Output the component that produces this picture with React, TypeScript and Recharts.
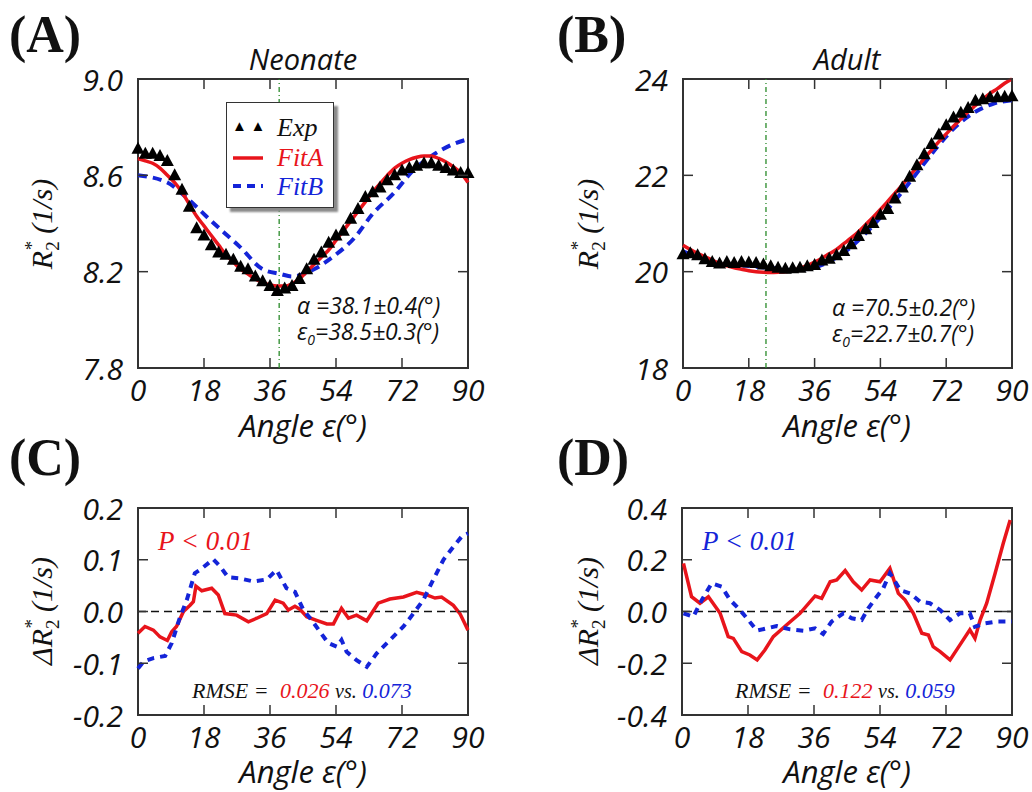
import React from 'react';
import { ComposedChart, Line, XAxis, YAxis, ReferenceLine, ReferenceArea } from 'recharts';

// ---- data ----
const angleTicks = [0, 18, 36, 54, 72, 90];

const expAngles = [0, 2, 4, 6, 8, 10, 12, 14, 16, 18, 20, 22, 24, 26, 28, 30, 32, 34, 36, 38, 40, 42, 44,
  46, 48, 50, 52, 54, 56, 58, 60, 62, 64, 66, 68, 70, 72, 74, 76, 78, 80, 82, 84, 86, 88, 90];

// Neonate (A)
const neoTicks = [7.8, 8.2, 8.6, 9.0];
const neoExp = [8.71, 8.69, 8.69, 8.68, 8.66, 8.60, 8.54, 8.47, 8.38, 8.35, 8.31, 8.28, 8.27, 8.25, 8.22, 8.21,
  8.18, 8.16, 8.14, 8.12, 8.13, 8.14, 8.17, 8.21, 8.25, 8.28, 8.32, 8.35, 8.37, 8.42, 8.46, 8.51, 8.53, 8.55,
  8.58, 8.60, 8.62, 8.63, 8.64, 8.65, 8.65, 8.64, 8.63, 8.62, 8.61, 8.61];
const neoFitA = [8.67, 8.66, 8.65, 8.63, 8.60, 8.57, 8.53, 8.48, 8.43, 8.39, 8.35, 8.31, 8.27, 8.24, 8.21, 8.19,
  8.17, 8.155, 8.145, 8.14, 8.14, 8.15, 8.17, 8.20, 8.23, 8.26, 8.29, 8.33, 8.37, 8.41, 8.45, 8.49, 8.53, 8.565,
  8.60, 8.63, 8.65, 8.665, 8.675, 8.68, 8.68, 8.67, 8.655, 8.635, 8.61, 8.57];
const neoFitBAngles = [0, 8, 13, 20, 28, 34, 39, 42, 48, 53, 59, 64, 70, 75, 80, 86, 90];
const neoFitB = [8.60, 8.57, 8.51, 8.41, 8.30, 8.21, 8.19, 8.18, 8.21, 8.26, 8.34, 8.44, 8.53, 8.62, 8.68, 8.73, 8.75];

// Adult (B)
const adultTicks = [18, 20, 22, 24];
const adultExp = [20.36, 20.38, 20.34, 20.26, 20.20, 20.17, 20.20, 20.18, 20.20, 20.19, 20.18, 20.15, 20.11,
  20.08, 20.06, 20.07, 20.08, 20.11, 20.14, 20.23, 20.27, 20.34, 20.43, 20.57, 20.74, 20.88, 21.01, 21.18, 21.30,
  21.52, 21.75, 21.97, 22.21, 22.44, 22.65, 22.85, 23.04, 23.20, 23.30, 23.40, 23.55, 23.58, 23.62, 23.62, 23.63, 23.64];
const adultFitA = [20.55, 20.46, 20.38, 20.31, 20.24, 20.17, 20.12, 20.08, 20.05, 20.02, 20.00, 19.99, 19.985,
  19.99, 20.00, 20.03, 20.07, 20.13, 20.20, 20.28, 20.37, 20.46, 20.58, 20.70, 20.83, 20.98, 21.13, 21.29, 21.46,
  21.63, 21.80, 21.99, 22.17, 22.35, 22.53, 22.70, 22.86, 23.02, 23.17, 23.32, 23.45, 23.58, 23.70, 23.80, 23.91, 24.00];
const adultFitBAngles = [0, 5, 10, 15, 20, 25, 30, 35, 40, 45, 50, 55, 60, 65, 70, 75, 80, 85, 90];
const adultFitB = [20.42, 20.28, 20.17, 20.14, 20.10, 20.07, 20.03, 20.07, 20.21, 20.45, 20.80, 21.21, 21.66,
  22.15, 22.63, 23.04, 23.32, 23.49, 23.56];

// Residuals neonate (C)
const resNeoTicks = [-0.2, -0.1, 0.0, 0.1, 0.2];
const resNeoAAngles = [0, 1.9, 4.2, 6, 8, 9.2, 10.5, 12.4, 14.2, 15.1, 15.8, 17.4, 20.1, 21.9, 23.7, 26.9, 30.1,
  32.4, 35.1, 37.4, 39.6, 41, 42.8, 44.2, 46, 48.7, 51.5, 53.3, 55.5, 57.4, 59.6, 62.4, 65.5, 68.7, 72.4, 76,
  78.7, 81, 82.8, 86, 87.8, 90];
const resNeoA = [-0.042, -0.029, -0.036, -0.049, -0.056, -0.039, -0.029, 0.0, 0.012, 0.019, 0.049, 0.040, 0.045,
  0.032, -0.004, -0.007, -0.020, -0.013, -0.004, 0.022, 0.016, 0.003, 0.010, 0.004, -0.010, -0.017, -0.024,
  -0.024, 0.006, -0.013, -0.007, -0.018, 0.016, 0.024, 0.028, 0.037, 0.032, 0.026, 0.028, 0.012, -0.004, -0.036];
const resNeoBAngles = [0, 1.5, 4.2, 7.4, 9.2, 11.5, 13.3, 15.5, 17.4, 20.5, 22.4, 24.6, 27.8, 31.5, 35.1, 37.8,
  40.5, 42.8, 45.1, 47.4, 49.6, 51.9, 54.2, 55.5, 56.9, 59.6, 62.4, 65.1, 68.7, 72.4, 75.1, 77.8, 80.5, 83.3,
  86, 88.3, 90];
const resNeoB = [-0.110, -0.097, -0.090, -0.086, -0.061, -0.010, 0.022, 0.074, 0.083, 0.101, 0.087, 0.066, 0.064,
  0.058, 0.062, 0.080, 0.045, 0.038, 0.003, -0.017, -0.039, -0.061, -0.068, -0.055, -0.078, -0.094, -0.107,
  -0.081, -0.055, -0.029, -0.004, 0.022, 0.061, 0.100, 0.125, 0.145, 0.151];

// Residuals adult (D)
const resAdultTicks = [-0.4, -0.2, 0.0, 0.2, 0.4];
const resAdultAAngles = [0.4, 2.6, 4.9, 7.2, 10.4, 12.6, 14, 16.3, 18.5, 20.5, 22.6, 24.9, 28.5, 32.2, 36.3,
  38.1, 40.4, 42.2, 44.5, 46.7, 49, 51.3, 54, 56.7, 59, 60.8, 63.1, 65.4, 67.2, 68.5, 70.4, 73.1, 75.8, 78.5,
  79.9, 81.3, 83.1, 85.4, 87.6, 89.5];
const resAdultA = [0.186, 0.057, 0.032, 0.057, -0.007, -0.097, -0.104, -0.155, -0.168, -0.187, -0.149, -0.097,
  -0.052, -0.007, 0.060, 0.051, 0.115, 0.122, 0.158, 0.115, 0.083, 0.122, 0.115, 0.167, 0.070, 0.045, -0.007,
  -0.084, -0.091, -0.136, -0.155, -0.187, -0.129, -0.071, -0.104, -0.033, 0.032, 0.148, 0.263, 0.354];
const resAdultBAngles = [0.4, 3.1, 5.4, 8.1, 10.8, 13.1, 15.8, 18.1, 20.4, 23.1, 25.8, 29.5, 33.1, 36.3, 38.5,
  40.8, 44, 46.3, 49, 50.8, 53.1, 54.9, 56.7, 59.5, 62.2, 64.9, 67.6, 70.4, 73.1, 75.8, 78.5, 79.9, 82.6, 85.8, 90];
const resAdultB = [-0.007, -0.020, 0.045, 0.109, 0.096, 0.045, 0.006, -0.033, -0.074, -0.065, -0.056, -0.069,
  -0.074, -0.065, -0.087, -0.039, -0.007, -0.026, -0.033, 0.012, 0.057, 0.090, 0.148, 0.083, 0.070, 0.038,
  0.032, 0.006, -0.033, -0.007, -0.007, -0.059, -0.046, -0.039, -0.039];

const zip = (xs: number[], ys: number[]) => xs.map((x, i) => ({ x, y: ys[i] }));

const FRAME = '#333';
const RED = '#e8141b';
const BLUE = '#1424d8';
const SANS = '"Open Sans", "Noto Sans", sans-serif';
const SERIF = '"Liberation Serif", "DejaVu Serif", serif';

const makeXTick = (plotH: number) => (p: any) => {
  const { x, y, payload, index } = p;
  return (
    <g key={`xt-${index}`}>
      <line x1={x} y1={y} x2={x} y2={y - 10} stroke={FRAME} strokeWidth={1.5} />
      <line x1={x} y1={y - plotH} x2={x} y2={y - plotH + 10} stroke={FRAME} strokeWidth={1.5} />
      <text x={x} y={y + 21} textAnchor="middle" dominantBaseline="central" fontFamily={SANS}
        fontStyle="italic" fontSize={30} fill="#111">{payload.value}</text>
    </g>
  );
};

const makeYTick = (plotW: number, digits: number) => (p: any) => {
  const { x, y, payload, index } = p;
  return (
    <g key={`yt-${index}`}>
      <line x1={x} y1={y} x2={x + 10} y2={y} stroke={FRAME} strokeWidth={1.5} />
      <line x1={x + plotW} y1={y} x2={x + plotW - 10} y2={y} stroke={FRAME} strokeWidth={1.5} />
      <text x={x - 15} y={y} textAnchor="end" dominantBaseline="central" fontFamily={SANS}
        fontStyle="italic" fontSize={30} fill="#111">{Number(payload.value).toFixed(digits)}</text>
    </g>
  );
};

const Tri = (p: any) => {
  const { cx, cy, index } = p;
  if (cx == null || cy == null) return <g key={`t-${index}`} />;
  return <polygon key={`t-${index}`} points={`${cx},${cy - 7} ${cx - 6.5},${cy + 5} ${cx + 6.5},${cy + 5}`} fill="#000" />;
};

interface PanelProps {
  left: number; top: number; w: number; h: number;
  yDomain: [number, number]; yTicks: number[]; digits: number;
  children: React.ReactNode;
}

const Panel: React.FC<PanelProps> = ({ left, top, w, h, yDomain, yTicks, digits, children }) => (
  <div style={{ position: 'absolute', left: left - 80, top: top - 30 }}>
    <ComposedChart width={w + 110} height={h + 80} margin={{ top: 30, right: 30, left: 0, bottom: 0 }}>
      <XAxis type="number" dataKey="x" domain={[0, 90]} ticks={angleTicks} axisLine={false} tickLine={false}
        tickSize={0} tickMargin={0} height={50} tick={makeXTick(h)} allowDuplicatedCategory={false} />
      <YAxis type="number" domain={yDomain} ticks={yTicks} axisLine={false} tickLine={false}
        tickSize={0} tickMargin={0} width={80} tick={makeYTick(w, digits)} />
      <ReferenceArea x1={0} x2={90} y1={yDomain[0]} y2={yDomain[1]} fill="none" stroke={FRAME} strokeWidth={2} />
      {children}
    </ComposedChart>
  </div>
);

const txt = (extra: React.CSSProperties): React.CSSProperties => ({
  position: 'absolute', whiteSpace: 'nowrap', lineHeight: 1, ...extra,
});

const YLabel: React.FC<{ cx: number; cy: number; delta?: boolean }> = ({ cx, cy, delta }) => (
  <div style={txt({ left: cx, top: cy, transform: 'translate(-50%, -50%) rotate(-90deg)', fontFamily: SERIF,
    fontStyle: 'italic', fontSize: 30, color: '#111' })}>
    {delta ? 'Δ' : ''}R<span style={{ fontSize: 19, position: 'relative', top: 7, fontStyle: 'normal' }}>2</span>
    <span style={{ fontSize: 19, marginLeft: -9, position: 'relative', top: -14, fontStyle: 'normal' }}>*</span>
    <span style={{ marginLeft: 7 }}>(1/s)</span>
  </div>
);

const XLabel: React.FC<{ cx: number; cy: number }> = ({ cx, cy }) => (
  <div style={txt({ left: cx, top: cy, transform: 'translate(-50%, -50%)', fontFamily: SANS,
    fontStyle: 'italic', fontSize: 31, color: '#111' })}>Angle ε(°)</div>
);

const Letter: React.FC<{ x: number; y: number; s: string }> = ({ x, y, s }) => (
  <div style={txt({ left: x, top: y, fontFamily: SERIF, fontWeight: 'bold', fontSize: 52, color: '#111' })}>{s}</div>
);

const Params: React.FC<{ x: number; y: number; a: string; e: string }> = ({ x, y, a, e }) => (
  <div style={txt({ left: x, top: y, fontFamily: SANS, fontStyle: 'italic', fontSize: 23, color: '#111' })}>
    <div style={{ height: 26 }}>{`α =${a}`}</div>
    <div>ε<span style={{ fontSize: 14, position: 'relative', top: 5 }}>0</span>{`=${e}`}</div>
  </div>
);

const Rmse: React.FC<{ x: number; y: number; a: string; b: string }> = ({ x, y, a, b }) => (
  <div style={txt({ left: x, top: y, fontFamily: SERIF, fontStyle: 'italic', fontSize: 22, color: '#111' })}>
    RMSE = <span style={{ color: RED, marginLeft: 6 }}>{a}</span> <span style={{ fontSize: 20 }}>vs.</span>{' '}
    <span style={{ color: BLUE }}>{b}</span>
  </div>
);

export default function App() {
  const A = { left: 138, top: 79, w: 330, h: 289 };
  const B = { left: 683, top: 79, w: 329, h: 289 };
  const C = { left: 138, top: 508, w: 330, h: 207 };
  const D = { left: 682, top: 508, w: 330, h: 207 };
  return (
    <div style={{ position: 'absolute', left: 0, top: 0, width: 1032, height: 792, background: '#fff', overflow: 'hidden' }}>
      <Panel {...A} yDomain={[7.8, 9.0]} yTicks={neoTicks} digits={1}>
        <ReferenceLine x={38.5} stroke="#2a8a2a" strokeWidth={1.3} strokeDasharray="5 3 1 3" />
        <Line data={zip(expAngles, neoExp)} dataKey="y" stroke="none" dot={Tri} isAnimationActive={false} />
        <Line data={zip(neoFitBAngles, neoFitB)} dataKey="y" type="monotone" stroke={BLUE} strokeWidth={4}
          strokeDasharray="9 6" dot={false} isAnimationActive={false} />
        <Line data={zip(expAngles, neoFitA)} dataKey="y" type="monotone" stroke={RED} strokeWidth={3.5}
          dot={false} isAnimationActive={false} />
      </Panel>
      <Panel {...B} yDomain={[18, 24]} yTicks={adultTicks} digits={0}>
        <ReferenceLine x={22.7} stroke="#2a8a2a" strokeWidth={1.3} strokeDasharray="5 3 1 3" />
        <Line data={zip(expAngles, adultExp)} dataKey="y" stroke="none" dot={Tri} isAnimationActive={false} />
        <Line data={zip(adultFitBAngles, adultFitB)} dataKey="y" type="monotone" stroke={BLUE} strokeWidth={4}
          strokeDasharray="9 6" dot={false} isAnimationActive={false} />
        <Line data={zip(expAngles, adultFitA)} dataKey="y" type="monotone" stroke={RED} strokeWidth={3.5}
          dot={false} isAnimationActive={false} />
      </Panel>
      <Panel {...C} yDomain={[-0.2, 0.2]} yTicks={resNeoTicks} digits={1}>
        <ReferenceLine y={0} stroke="#111" strokeWidth={1.5} strokeDasharray="8 5" />
        <Line data={zip(resNeoAAngles, resNeoA)} dataKey="y" stroke={RED} strokeWidth={3.5} dot={false} isAnimationActive={false} />
        <Line data={zip(resNeoBAngles, resNeoB)} dataKey="y" stroke={BLUE} strokeWidth={4} strokeDasharray="7 6"
          dot={false} isAnimationActive={false} />
      </Panel>
      <Panel {...D} yDomain={[-0.4, 0.4]} yTicks={resAdultTicks} digits={1}>
        <ReferenceLine y={0} stroke="#111" strokeWidth={1.5} strokeDasharray="8 5" />
        <Line data={zip(resAdultAAngles, resAdultA)} dataKey="y" stroke={RED} strokeWidth={3.5} dot={false} isAnimationActive={false} />
        <Line data={zip(resAdultBAngles, resAdultB)} dataKey="y" stroke={BLUE} strokeWidth={4} strokeDasharray="7 6"
          dot={false} isAnimationActive={false} />
      </Panel>

      <Letter x={9} y={9} s="(A)" />
      <Letter x={557} y={9} s="(B)" />
      <Letter x={9} y={432} s="(C)" />
      <Letter x={557} y={432} s="(D)" />

      <div style={txt({ left: 303, top: 58, transform: 'translate(-50%, -50%)', fontFamily: SANS, fontStyle: 'italic', fontSize: 29, color: '#111' })}>Neonate</div>
      <div style={txt({ left: 847, top: 58, transform: 'translate(-50%, -50%)', fontFamily: SANS, fontStyle: 'italic', fontSize: 29, color: '#111' })}>Adult</div>

      <YLabel cx={42} cy={224} />
      <YLabel cx={588} cy={224} />
      <YLabel cx={42} cy={611} delta />
      <YLabel cx={588} cy={611} delta />

      <XLabel cx={303} cy={425} />
      <XLabel cx={847} cy={425} />
      <XLabel cx={303} cy={771} />
      <XLabel cx={847} cy={771} />

      <Params x={297} y={294} a="38.1±0.4(°)" e="38.5±0.3(°)" />
      <Params x={832} y={296} a="70.5±0.2(°)" e="22.7±0.7(°)" />

      <div style={txt({ left: 158, top: 528, fontFamily: SERIF, fontStyle: 'italic', fontSize: 27, color: RED })}>P &lt; 0.01</div>
      <div style={txt({ left: 702, top: 528, fontFamily: SERIF, fontStyle: 'italic', fontSize: 27, color: BLUE })}>P &lt; 0.01</div>
      <Rmse x={192} y={680} a="0.026" b="0.073" />
      <Rmse x={735} y={680} a="0.122" b="0.059" />

      {/* legend of panel A */}
      <div style={{ position: 'absolute', left: 226, top: 102, width: 106, height: 104, background: '#fff',
        border: '1.5px solid #333', boxShadow: '4px 4px 2px #8a8a8a', fontFamily: SERIF, fontStyle: 'italic', fontSize: 26 }}>
        <div style={txt({ left: 5, top: 16, fontSize: 15, fontStyle: 'normal' })}>▲ ▲</div>
        <div style={txt({ left: 50, top: 12, color: '#111' })}>Exp</div>
        <svg style={{ position: 'absolute', left: 6, top: 46 }} width={32} height={40}>
          <line x1={0} y1={9} x2={30} y2={9} stroke={RED} strokeWidth={3.5} />
          <line x1={0} y1={37} x2={30} y2={37} stroke={BLUE} strokeWidth={4} strokeDasharray="8 6" />
        </svg>
        <div style={txt({ left: 50, top: 42, color: RED })}>FitA</div>
        <div style={txt({ left: 50, top: 71, color: BLUE })}>FitB</div>
      </div>
    </div>
  );
}
